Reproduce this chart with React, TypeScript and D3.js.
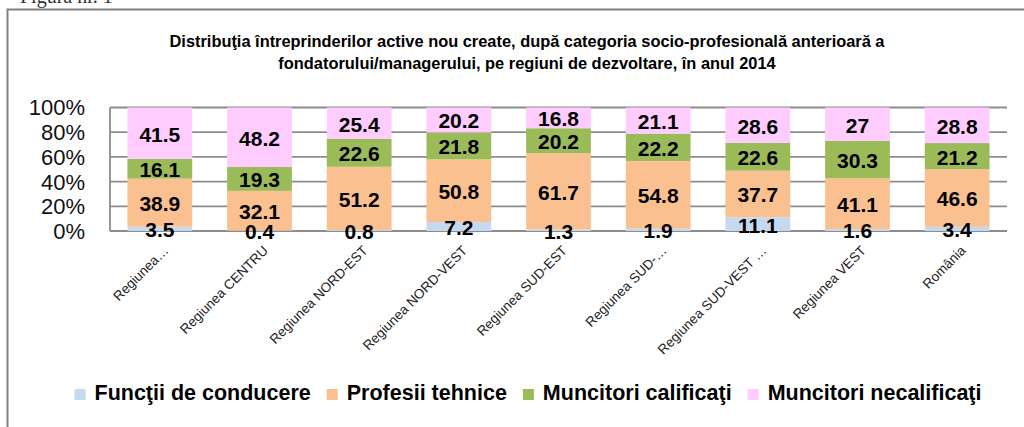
import React, { useRef, useEffect } from "react";
import * as d3 from "d3";

const W = 1024;
const H = 427;
const PLOT = { left: 110, right: 1007, top: 107.5, bottom: 231 };
const FONT = "'Liberation Sans', Arial, sans-serif";

const TITLE_LINES = [
  "Distribuţia întreprinderilor active nou create, după categoria socio-profesională anterioară a",
  "fondatorului/managerului, pe regiuni de dezvoltare, în anul 2014",
];

const categories = [
  "Regiunea…",
  "Regiunea CENTRU",
  "Regiunea NORD-EST",
  "Regiunea NORD-VEST",
  "Regiunea SUD-EST",
  "Regiunea SUD-…",
  "Regiunea SUD-VEST …",
  "Regiunea VEST",
  "România",
];

const seriesNames = [
  "Funcţii de conducere",
  "Profesii tehnice",
  "Muncitori calificaţi",
  "Muncitori necalificaţi",
];
const seriesColors = ["#c5d9f1", "#fac090", "#9bbb59", "#ffccff"];

const functiiConducere = [3.5, 0.4, 0.8, 7.2, 1.3, 1.9, 11.1, 1.6, 3.4];
const profesiiTehnice = [38.9, 32.1, 51.2, 50.8, 61.7, 54.8, 37.7, 41.1, 46.6];
const muncitoriCalificati = [16.1, 19.3, 22.6, 21.8, 20.2, 22.2, 22.6, 30.3, 21.2];
const muncitoriNecalificati = [41.5, 48.2, 25.4, 20.2, 16.8, 21.1, 28.6, 27, 28.8];

const yTicks = [0, 20, 40, 60, 80, 100];

export default function App() {
  const ref = useRef<SVGSVGElement | null>(null);

  useEffect(() => {
    const svg = d3.select(ref.current);
    svg.selectAll("*").remove();

    const values = [functiiConducere, profesiiTehnice, muncitoriCalificati, muncitoriNecalificati];
    const rows = categories.map((c, i) => {
      const r: any = { cat: c };
      seriesNames.forEach((s, k) => (r[s] = values[k][i]));
      return r;
    });
    const stacked = d3.stack().keys(seriesNames)(rows);

    const x = d3
      .scaleBand()
      .domain(categories)
      .range([PLOT.left, PLOT.right])
      .paddingInner(0.35)
      .paddingOuter(0.175);
    const y = d3.scaleLinear().domain([0, 100]).range([PLOT.bottom, PLOT.top]);

    svg.append("rect").attr("width", W).attr("height", H).attr("fill", "#fff");

    // page caption cut off at the top
    svg
      .append("text")
      .attr("x", 20)
      .attr("y", 3)
      .attr("font-family", "'Liberation Serif', 'Times New Roman', serif")
      .attr("font-size", 20)
      .attr("fill", "#333")
      .text("Figura nr. 1");

    // frame
    svg
      .append("path")
      .attr("d", `M7.5,${H} V9.5 H${W}`)
      .attr("fill", "none")
      .attr("stroke", "#808080")
      .attr("stroke-width", 2);

    // title
    svg
      .append("g")
      .selectAll("text")
      .data(TITLE_LINES)
      .join("text")
      .attr("x", 527)
      .attr("y", (d, i) => 47 + i * 22)
      .attr("text-anchor", "middle")
      .attr("font-family", FONT)
      .attr("font-weight", "bold")
      .attr("font-size", 16.4)
      .attr("fill", "#000")
      .text((d) => d);

    // grid
    const grid = svg.append("g");
    grid
      .selectAll("line")
      .data(yTicks)
      .join("line")
      .attr("x1", PLOT.left)
      .attr("x2", PLOT.right)
      .attr("y1", (d) => y(d))
      .attr("y2", (d) => y(d))
      .attr("stroke", "#8c8c8c")
      .attr("stroke-width", 1.8);
    grid
      .append("line")
      .attr("x1", PLOT.left)
      .attr("x2", PLOT.left)
      .attr("y1", y(100))
      .attr("y2", y(0))
      .attr("stroke", "#8c8c8c")
      .attr("stroke-width", 1.8);

    // y tick labels
    svg
      .append("g")
      .selectAll("text")
      .data(yTicks)
      .join("text")
      .attr("x", 85)
      .attr("y", (d) => y(d))
      .attr("dy", "0.36em")
      .attr("text-anchor", "end")
      .attr("font-family", FONT)
      .attr("font-size", 22)
      .attr("fill", "#111")
      .text((d) => `${d}%`);

    // bars
    const layers = svg
      .append("g")
      .selectAll("g")
      .data(stacked)
      .join("g")
      .attr("fill", (d, i) => seriesColors[i]);
    layers
      .selectAll("rect")
      .data((d) => d)
      .join("rect")
      .attr("x", (d: any) => x(d.data.cat)!)
      .attr("width", x.bandwidth())
      .attr("y", (d) => y(d[1]))
      .attr("height", (d) => y(d[0]) - y(d[1]));

    // data labels
    const labels = svg.append("g");
    stacked.forEach((layer) => {
      labels
        .append("g")
        .selectAll("text")
        .data(layer)
        .join("text")
        .attr("x", (d: any) => x(d.data.cat)! + x.bandwidth() / 2)
        .attr("y", (d) => y((d[0] + d[1]) / 2))
        .attr("dy", "0.4em")
        .attr("text-anchor", "middle")
        .attr("font-family", FONT)
        .attr("font-weight", "bold")
        .attr("font-size", 21)
        .attr("fill", "#000")
        .text((d) => String(d[1] - d[0] > 0 ? +(d[1] - d[0]).toFixed(1) : 0));
    });

    // x labels
    svg
      .append("g")
      .selectAll("text")
      .data(categories)
      .join("text")
      .attr(
        "transform",
        (d) => `translate(${x(d)! + x.bandwidth() / 2 + 6},${PLOT.bottom + 17}) rotate(-45)`
      )
      .attr("text-anchor", "end")
      .attr("dy", "0.35em")
      .attr("font-family", FONT)
      .attr("font-size", 13.5)
      .attr("fill", "#222")
      .text((d) => d);

    // legend
    const legend = svg.append("g");
    const items = legend
      .selectAll("g")
      .data(seriesNames)
      .join("g");
    items
      .append("rect")
      .attr("width", 11)
      .attr("height", 11)
      .attr("y", -11)
      .attr("fill", (d, i) => seriesColors[i]);
    const texts = items
      .append("text")
      .attr("x", 20)
      .attr("font-family", FONT)
      .attr("font-weight", "bold")
      .attr("font-size", 21.5)
      .attr("fill", "#000")
      .text((d) => d);
    const widths = texts.nodes().map((n) => (n as SVGTextElement).getComputedTextLength());
    const gap = 16;
    const total = d3.sum(widths) + widths.length * 20 + (widths.length - 1) * gap;
    let cx = 528 - total / 2;
    items.attr("transform", (d, i) => {
      const t = `translate(${cx},400)`;
      cx += 20 + widths[i] + gap;
      return t;
    });
  }, []);

  return (
    <div style={{ position: "absolute", left: 0, top: 0 }}>
      <svg ref={ref} width={W} height={H} style={{ display: "block" }} />
    </div>
  );
}
